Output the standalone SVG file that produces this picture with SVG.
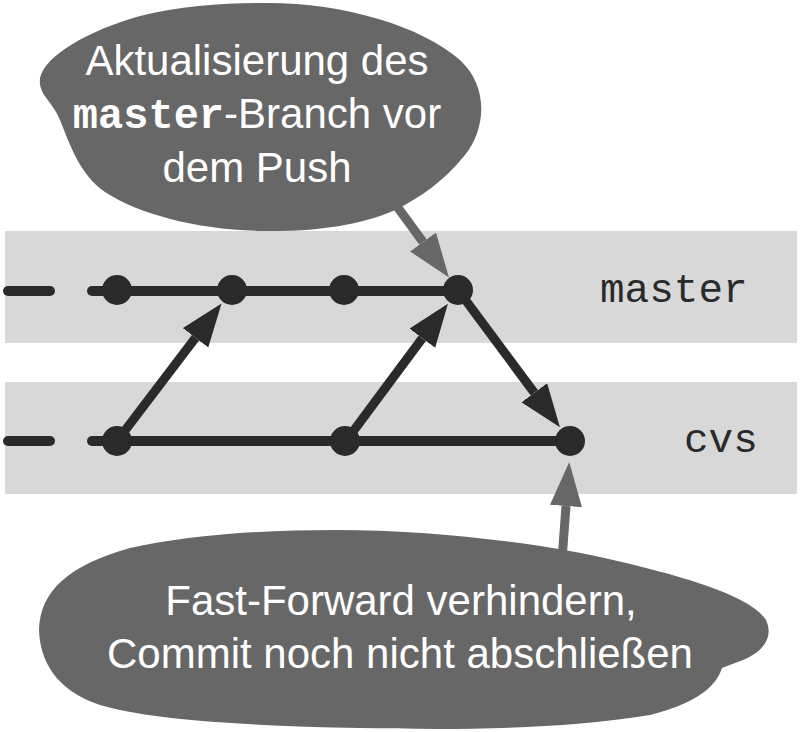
<svg xmlns="http://www.w3.org/2000/svg" width="800" height="732" viewBox="0 0 800 732">
<style>
.band{fill:#d8d8d8}
.edge{stroke:#2a2a2a;stroke-width:10;stroke-linecap:round;fill:none}
.arr{stroke:#2a2a2a;stroke-width:9;fill:none;marker-end:url(#ah)}
.garr{stroke:#676767;stroke-width:9;fill:none;marker-end:url(#gh)}
.node{fill:#2a2a2a}
.bubble{fill:#676767}
.bt{font-family:"Liberation Sans",Arial,sans-serif;font-size:42px;fill:#ffffff;text-anchor:middle}
.mono{font-family:"Liberation Mono","Courier New",monospace}
.lbl{font-family:"Liberation Mono","Courier New",monospace;font-size:41px;fill:#2a2a2a}
</style>
<defs>
<marker id="ah" markerUnits="userSpaceOnUse" markerWidth="44" markerHeight="34" refX="0" refY="16" orient="auto" viewBox="0 0 44 34">
<path d="M0,0 L43,16 L0,32 Z" fill="#2a2a2a"/>
</marker>
<marker id="gh" markerUnits="userSpaceOnUse" markerWidth="46" markerHeight="36" refX="0" refY="16" orient="auto" viewBox="0 0 46 36">
<path d="M0,0 L44,16 L0,32 Z" fill="#676767"/>
</marker>
</defs>
<g id="bands">
<rect class="band" x="5" y="231" width="792" height="112"/>
<rect class="band" x="5" y="382" width="792" height="112"/>
</g>
<g id="labels">
<text class="lbl" x="600" y="302">master</text>
<text class="lbl" x="684" y="452">cvs</text>
</g>
<g id="connectors">
<line class="edge" x1="8" y1="291" x2="50" y2="291"/>
<line class="edge" x1="92" y1="291" x2="458" y2="291"/>
<line class="edge" x1="8" y1="441" x2="50" y2="441"/>
<line class="edge" x1="92" y1="441" x2="570" y2="441"/>
<line class="arr" x1="117" y1="441" x2="195.5" y2="337.8"/>
<line class="arr" x1="346" y1="441" x2="422.3" y2="338.2"/>
<line class="arr" x1="458" y1="290" x2="534.3" y2="392.8"/>
<line class="garr" x1="385" y1="190" x2="423" y2="242"/>
<line class="garr" x1="562" y1="560" x2="566" y2="506"/>
</g>
<g id="n1"><circle class="node" cx="117" cy="290" r="15"/></g>
<g id="n2"><circle class="node" cx="232" cy="290" r="15"/></g>
<g id="n3"><circle class="node" cx="344" cy="290" r="15"/></g>
<g id="n4"><circle class="node" cx="458" cy="290" r="15"/></g>
<g id="c1"><circle class="node" cx="117" cy="441" r="15"/></g>
<g id="c2"><circle class="node" cx="345" cy="441" r="15"/></g>
<g id="c3"><circle class="node" cx="570" cy="441" r="15"/></g>
<g id="bubble-top">
<path class="bubble" d="M263,3 C340,2 420,25 460,60 C490,88 485,130 465,155 C445,180 420,198 395,210 C360,226 310,232 263,231 C200,230 140,215 105,192 C80,175 70,145 60,120 C52,100 38,95 40,78 C45,55 90,30 140,16 C180,6 225,3 263,3 Z"/>
<text class="bt" x="257" y="75">Aktualisierung des</text>
<text class="bt" x="257" y="128"><tspan class="mono" font-weight="bold">master</tspan>-Branch vor</text>
<text class="bt" x="257" y="182">dem Push</text>
</g>
<g id="bubble-bottom">
<path class="bubble" d="M337,530 C420,530 520,540 600,557 C680,575 750,595 766,620 C775,640 760,655 735,663 L722,668 C715,690 690,705 650,715 C560,730 450,730 360,728 C250,726 150,720 100,705 C55,690 40,660 39,630 C40,590 70,565 130,548 C190,535 260,530 337,530 Z"/>
<text class="bt" x="401" y="615">Fast-Forward verhindern,</text>
<text class="bt" x="400" y="668">Commit noch nicht abschließen</text>
</g>
</svg>
